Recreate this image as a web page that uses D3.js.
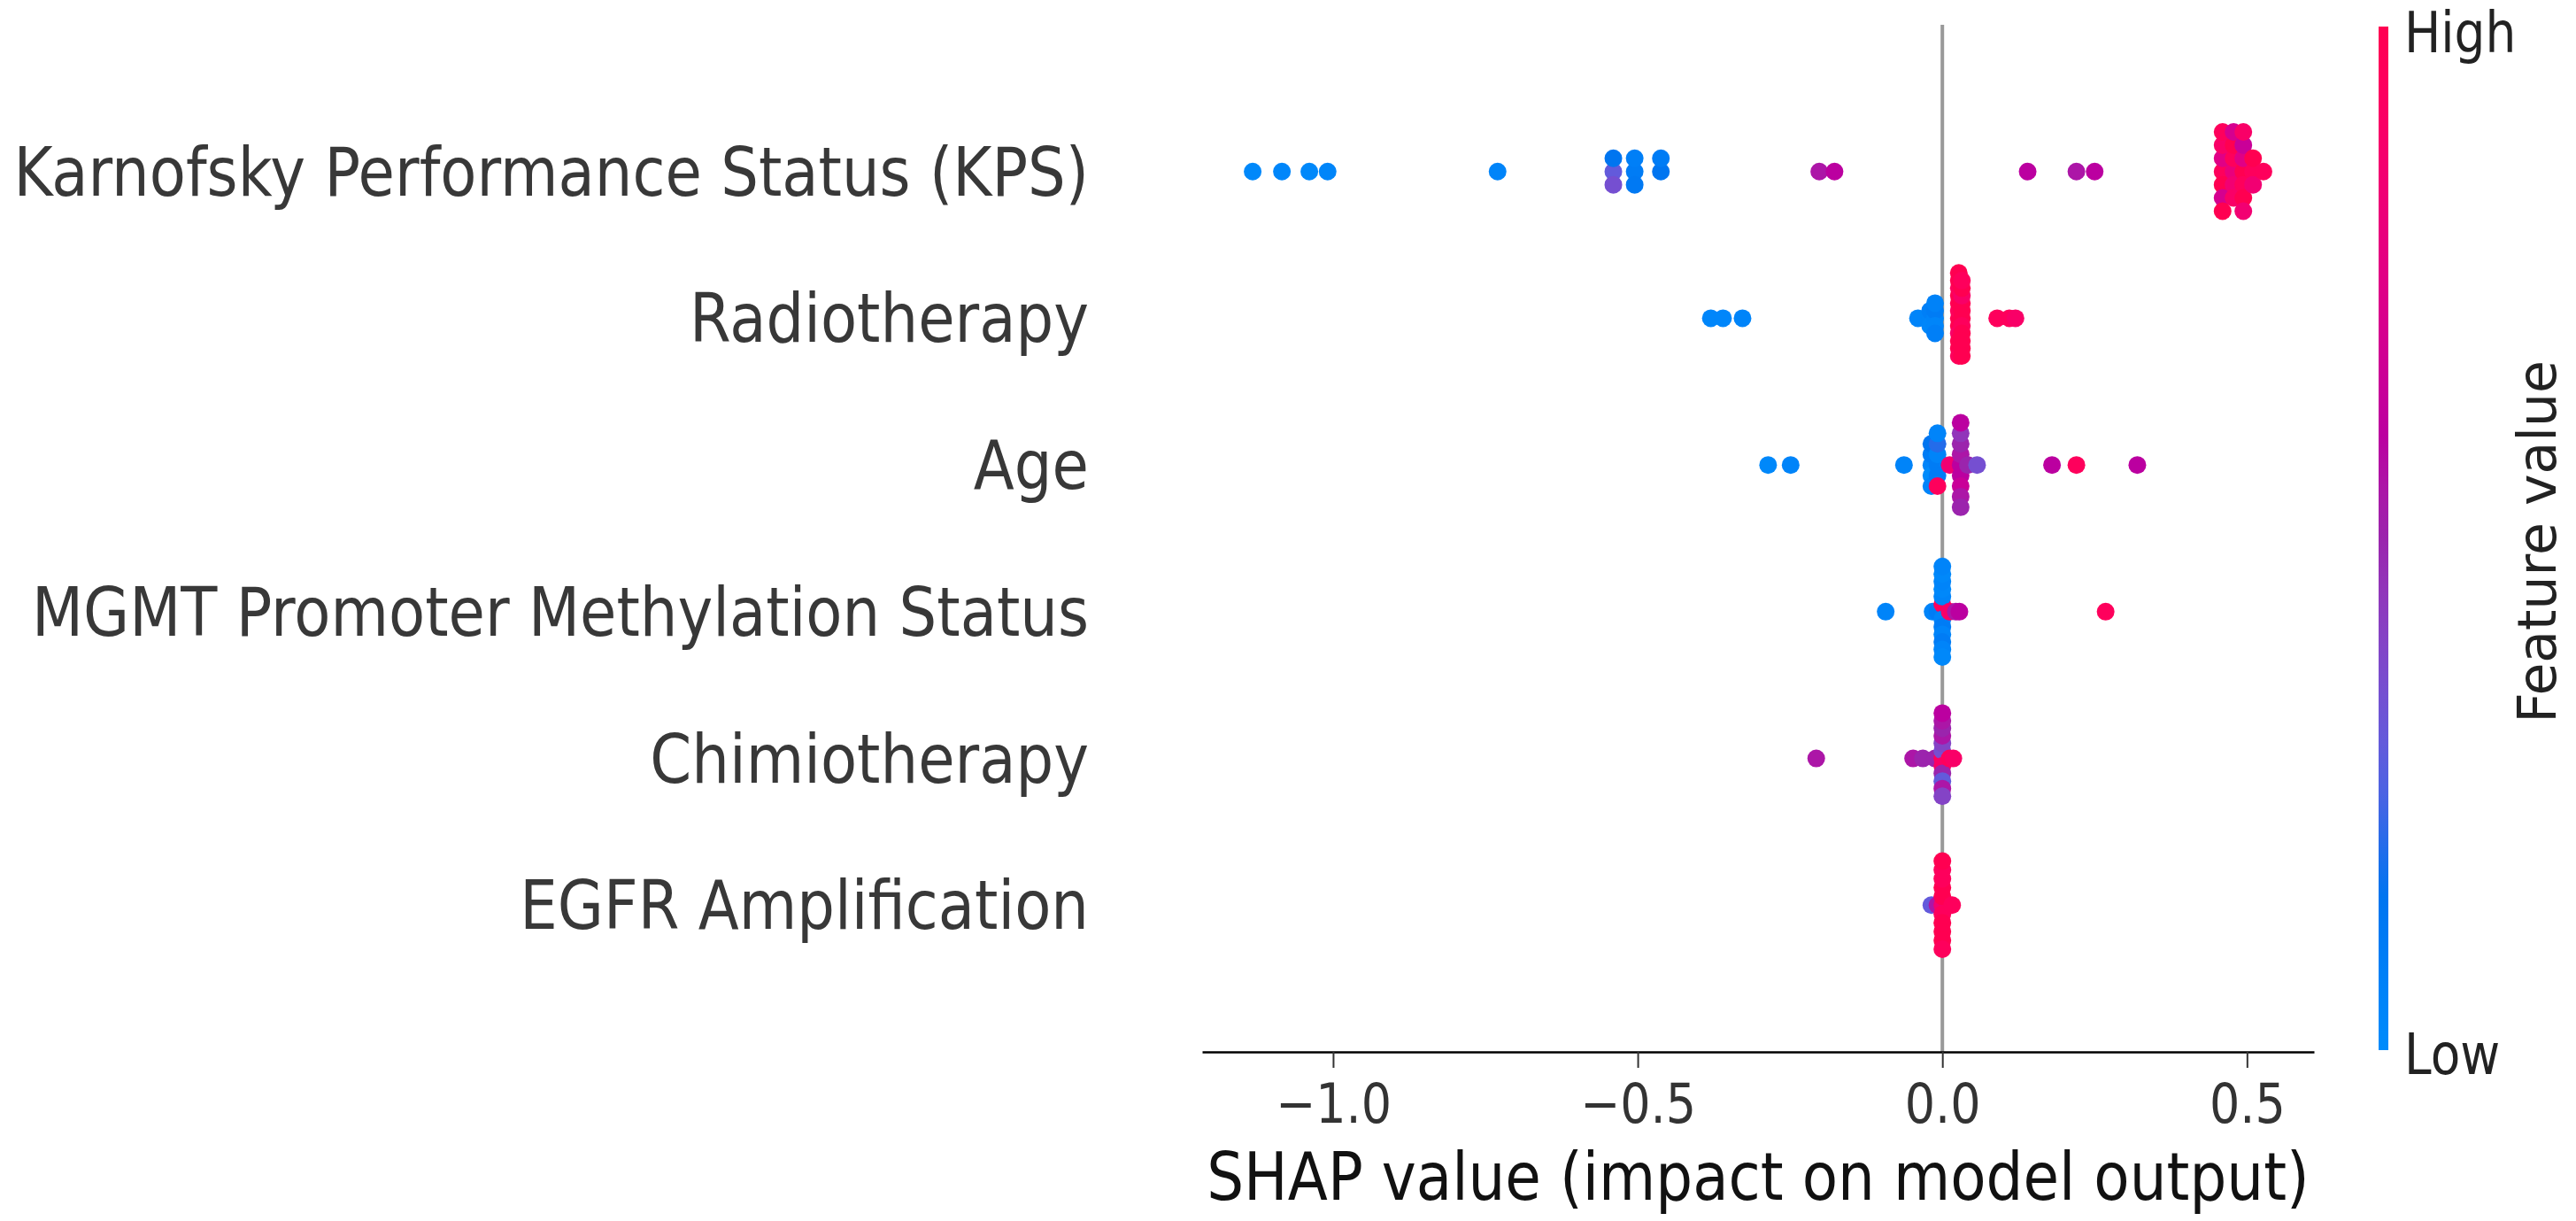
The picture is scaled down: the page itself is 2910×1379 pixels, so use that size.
<!DOCTYPE html>
<html>
<head>
<meta charset="utf-8">
<script src="https://cdn.jsdelivr.net/npm/d3@7"></script>
<style>
  body { margin: 0; background: #fff; }
  text { font-family: "DejaVu Sans", sans-serif; }
</style>
</head>
<body>
<div id="chart"></div>
<script>
// feature names, top to bottom
const features = [
  "Karnofsky Performance Status (KPS)",
  "Radiotherapy",
  "Age",
  "MGMT Promoter Methylation Status",
  "Chimiotherapy",
  "EGFR Amplification"
];

// shap values and normalised feature values (0 = low, 1 = high)
const kpsShap = [-1.132, -1.084, -1.039, -1.009, -0.730,
  -0.540, -0.540, -0.540, -0.505, -0.505, -0.505, -0.462, -0.462,
  -0.202, -0.177, 0.140, 0.220, 0.250,
  0.460, 0.460, 0.460, 0.460, 0.460, 0.460, 0.460,
  0.478, 0.478, 0.478, 0.478, 0.478, 0.478,
  0.494, 0.494, 0.494, 0.494, 0.494, 0.494, 0.494,
  0.510, 0.510, 0.510, 0.527];
const kpsValue = [0.02, 0.03, 0.02, 0.04, 0.05,
  0.30, 0.15, 0.35, 0.10, 0.08, 0.12, 0.15, 0.10,
  0.55, 0.60, 0.60, 0.55, 0.60,
  0.95, 0.75, 1.00, 0.90, 0.70, 0.95, 1.00,
  0.80, 0.95, 0.85, 1.00, 0.90, 0.70,
  1.00, 0.75, 0.95, 0.65, 1.00, 0.90, 0.85,
  0.95, 1.00, 0.85, 0.95];

const radioShap = [-0.380, -0.360, -0.328, -0.040,
  -0.020, -0.020, -0.020, -0.012, -0.012, -0.012, -0.012, -0.012,
  0.027, 0.027, 0.027, 0.027, 0.027, 0.027, 0.027, 0.027, 0.027, 0.027, 0.027, 0.027,
  0.032, 0.032, 0.032, 0.032, 0.032, 0.032, 0.032, 0.032, 0.032, 0.032, 0.032,
  0.090, 0.110, 0.120];
const radioValue = [0.03, 0.03, 0.05, 0.05,
  0.05, 0.08, 0.03, 0.05, 0.10, 0.04, 0.06, 0.08,
  1.00, 0.95, 1.00, 1.00, 0.90, 1.00, 1.00, 0.95, 1.00, 1.00, 0.95, 1.00,
  1.00, 1.00, 0.95, 1.00, 1.00, 0.90, 1.00, 1.00, 1.00, 0.95, 1.00,
  0.95, 0.95, 0.90];

const ageShap = [-0.286, -0.249, -0.063,
  -0.018, -0.018, -0.018, -0.018, -0.018,
  -0.008, -0.008, -0.008, -0.008, -0.008, -0.008,
  0.012,
  0.030, 0.030, 0.030, 0.030, 0.030, 0.030, 0.030, 0.030, 0.030,
  0.042, 0.057, 0.180, 0.220, 0.320];
const ageValue = [0.02, 0.05, 0.05,
  0.05, 0.10, 0.00, 0.15, 0.05,
  0.10, 0.05, 0.10, 0.20, 0.95, 0.05,
  0.85,
  0.60, 0.55, 0.60, 0.50, 0.65, 0.45, 0.55, 0.60, 0.50,
  0.50, 0.35, 0.60, 0.95, 0.60];

const mgmtShap = [-0.093, -0.016, -0.008,
  0.000, 0.000, 0.000, 0.000, 0.000, 0.000, 0.000, 0.000, 0.000, 0.000, 0.000, 0.000, 0.000,
  0.012, 0.022, 0.028, 0.268];
const mgmtValue = [0.05, 0.05, 0.10,
  0.10, 0.95, 0.05, 0.05, 0.10, 0.02, 0.05, 0.05, 0.10, 0.02, 0.05, 0.05, 0.02,
  0.90, 0.55, 0.60, 0.95];

const chemoShap = [-0.207, -0.048, -0.032, -0.012,
  0.000, 0.000, 0.000, 0.000, 0.000, 0.000, 0.000, 0.000, 0.000, 0.000, 0.000, 0.000,
  0.012, 0.018];
const chemoValue = [0.55, 0.55, 0.50, 0.50,
  0.95, 0.35, 0.90, 0.40, 0.50, 0.55, 0.30, 0.50, 0.55, 0.55, 0.40, 0.60,
  0.95, 0.90];

const egfrShap = [-0.018, -0.008,
  0.000, 0.000, 0.000, 0.000, 0.000, 0.000, 0.000, 0.000, 0.000, 0.000, 0.000,
  0.016];
const egfrValue = [0.30, 0.55,
  0.85, 1.00, 0.95, 1.00, 1.00, 0.95, 1.00, 0.95, 1.00, 1.00, 0.95,
  0.95];

const xTicks = [-1.0, -0.5, 0.0, 0.5];
const colorbarLabels = ["Low", "High"];
const xLabel = "SHAP value (impact on model output)";
const colorbarTitle = "Feature value";

const shapList = [kpsShap, radioShap, ageShap, mgmtShap, chemoShap, egfrShap];
const valueList = [kpsValue, radioValue, ageValue, mgmtValue, chemoValue, egfrValue];

const width = 2910, height = 1379;
const stretch = 1.15; // glyphs in the picture are a bit taller than wide

// shap's red_blue colour map: walk through LCH from blue to red, dipping in lightness
function lch2rgb(l, c, h) {
  const a = c * Math.cos(h), b = c * Math.sin(h);
  const fy = (l + 16) / 116, fx = fy + a / 500, fz = fy - b / 200;
  const finv = t => t > 6 / 29 ? t * t * t : 3 * (6 / 29) * (6 / 29) * (t - 4 / 29);
  const X = 0.95047 * finv(fx), Y = finv(fy), Z = 1.08883 * finv(fz);
  const lin = [3.2406 * X - 1.5372 * Y - 0.4986 * Z,
               -0.9689 * X + 1.8758 * Y + 0.0415 * Z,
               0.0557 * X - 0.2040 * Y + 1.0570 * Z];
  const g = lin.map(v => {
    v = v <= 0.0031308 ? 12.92 * v : 1.055 * Math.pow(v, 1 / 2.4) - 0.055;
    return Math.round(255 * Math.max(0, Math.min(1, v)));
  });
  return `rgb(${g[0]},${g[1]},${g[2]})`;
}
function redBlue(t) {
  const l = t < 0.5 ? 54 + (40 - 54) * (t / 0.5) : 40 + (54 - 40) * ((t - 0.5) / 0.5);
  const c = 70 + (90 - 70) * t;
  const h = 4.6588 + t * (0.35470565 + 2 * Math.PI - 4.6588);
  return lch2rgb(l, c, h);
}

// beeswarm offsets like shap's summary plot
function swarm(vals) {
  const n = vals.length, lo = d3.min(vals), hi = d3.max(vals);
  const quant = vals.map(v => Math.round(100 * (v - lo) / (hi - lo + 1e-8)));
  const inds = d3.range(n).sort((a, b) => quant[a] - quant[b] || a - b);
  const ys = new Array(n).fill(0);
  let layer = 0, last = -1;
  for (const i of inds) {
    if (quant[i] !== last) layer = 0;
    ys[i] = Math.ceil(layer / 2) * ((layer % 2) * 2 - 1);
    layer++;
    last = quant[i];
  }
  const m = d3.max(ys, d => d + 1);
  return ys.map(y => y * 0.9 * (0.4 / m));
}

const svg = d3.select("#chart").append("svg")
  .attr("width", width)
  .attr("height", height)
  .style("background", "#fff");

// x limits with matplotlib's 5% margin
const allShap = shapList.flat();
const lo = d3.min(allShap), hi = d3.max(allShap), pad = (hi - lo) * 0.05;
const x = d3.scaleLinear().domain([lo - pad, hi + pad]).range([1358, 2614]);
const y = d3.scaleLinear().domain([-1, features.length]).range([1188, 28]);

// zero line
svg.append("line")
  .attr("x1", x(0)).attr("x2", x(0))
  .attr("y1", y(features.length)).attr("y2", y(-1))
  .attr("stroke", "#999999")
  .attr("stroke-width", 4);

// points
features.forEach((name, i) => {
  const pos = features.length - 1 - i;
  const vals = shapList[i];
  const ys = swarm(vals);
  svg.append("g").selectAll("circle")
    .data(vals)
    .enter()
    .append("circle")
    .attr("cx", d => x(d))
    .attr("cy", (d, j) => y(pos + ys[j]))
    .attr("r", 10)
    .attr("fill", (d, j) => redBlue(valueList[i][j]));
});

// feature names
features.forEach((name, i) => {
  const pos = features.length - 1 - i;
  svg.append("text")
    .attr("transform", `translate(1230,${y(pos) + 27}) scale(1,${stretch})`)
    .attr("text-anchor", "end")
    .attr("font-size", 67.3)
    .attr("fill", "#383838")
    .text(name);
});

// x axis
const axis = svg.append("g")
  .attr("transform", "translate(0,1188)")
  .call(d3.axisBottom(x).tickValues(xTicks).tickFormat(d3.format(".1f")).tickSize(18).tickSizeOuter(0));
axis.select(".domain").attr("stroke", "#000").attr("stroke-width", 2.5);
axis.selectAll(".tick line").attr("stroke", "#333333").attr("stroke-width", 2);
axis.selectAll(".tick text")
  .attr("y", null).attr("dy", null)
  .attr("transform", `translate(0,80) scale(1,${stretch})`)
  .attr("font-size", 54)
  .attr("font-family", "DejaVu Sans")
  .attr("fill", "#333333");

svg.append("text")
  .attr("transform", `translate(${(x.range()[0] + x.range()[1]) / 2},1355) scale(1,1.12)`)
  .attr("text-anchor", "middle")
  .attr("font-size", 66)
  .attr("fill", "#111")
  .text(xLabel);

// colour bar
const grad = svg.append("defs").append("linearGradient")
  .attr("id", "cbar")
  .attr("x1", 0).attr("y1", 1).attr("x2", 0).attr("y2", 0);
d3.range(0, 1.0001, 0.05).forEach(t => {
  grad.append("stop").attr("offset", t).attr("stop-color", redBlue(t));
});
const cb = d3.scaleLinear().domain([0, 1]).range([1186, 30]);
svg.append("rect")
  .attr("x", 2687).attr("y", cb(1))
  .attr("width", 11).attr("height", cb(0) - cb(1))
  .attr("fill", "url(#cbar)");

colorbarLabels.forEach((lab, i) => {
  svg.append("text")
    .attr("transform", `translate(2716,${cb(i) + (i ? 6 : 4) + 23}) scale(1,${stretch})`)
    .attr("font-size", 55)
    .attr("fill", "#222")
    .text(lab);
});

svg.append("text")
  .attr("transform", "translate(2866,612) rotate(-90)")
  .attr("text-anchor", "middle")
  .attr("dominant-baseline", "central")
  .attr("font-size", 60)
  .attr("fill", "#222")
  .text(colorbarTitle);
</script>
</body>
</html>
